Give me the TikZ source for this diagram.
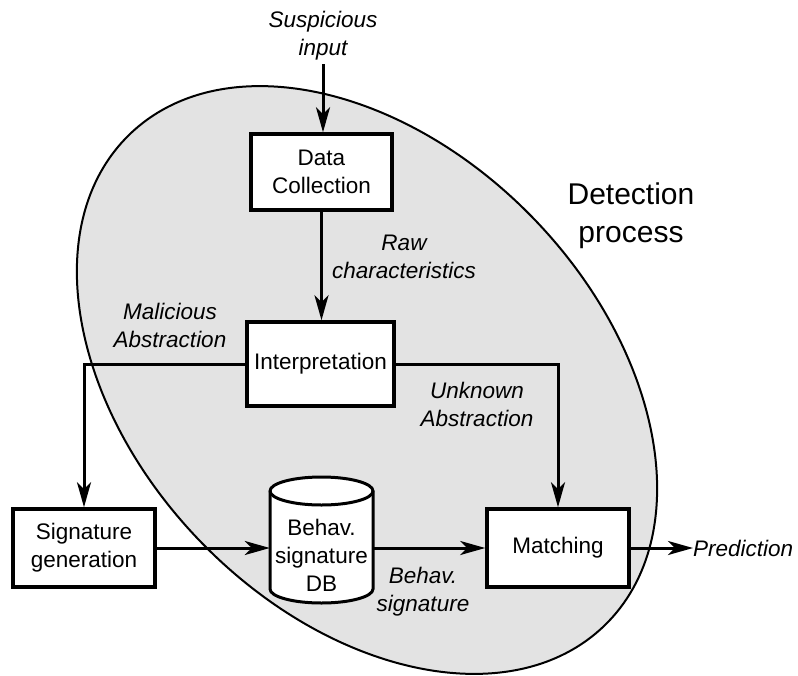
\documentclass[tikz,border=0pt]{standalone}
\usepackage{fontspec}
\setmainfont{Liberation Sans}
\usetikzlibrary{arrows.meta}
\begin{document}
\begin{tikzpicture}[x=1pt,y=1pt,
  every node/.style={font=\fontsize{22.5}{28}\selectfont, align=center},
  procbox/.style={draw, line width=3.5pt, fill=white, inner sep=0pt},
  lbl/.style={font=\fontsize{22.5}{28}\selectfont\itshape},
  flow/.style={line width=3pt, -{Stealth[length=25pt,width=14pt,inset=7pt]}},
  plainline/.style={line width=3pt}]
\useasboundingbox (0,0) rectangle (798,-675);

% tilted region of the detection process
\draw[line width=2pt, fill=black!11, rotate around={-46:(367,-380)}]
  (367,-380) ellipse [x radius=341.6pt, y radius=232pt];
\node[font=\fontsize{30}{38}\selectfont] (det) at (631,-216) {Detection\\process};

% process boxes
\node[procbox, minimum width=141pt, minimum height=76pt] (dc) at (321.5,-172) {Data\\Collection};
\node[procbox, minimum width=147pt, minimum height=84pt] (interp) at (320.5,-364) {Interpretation};
\node[procbox, minimum width=142pt, minimum height=78pt] (sg) at (84,-548) {Signature\\generation};
\node[procbox, minimum width=142pt, minimum height=78pt] (match) at (558,-548) {Matching};

% signature database cylinder
\draw[line width=3pt, fill=white]
  (270,-491) -- (270,-589)
  arc[start angle=180, end angle=360, x radius=51.5pt, y radius=14pt]
  -- (373,-491)
  arc[start angle=0, end angle=180, x radius=51.5pt, y radius=14pt] -- cycle;
\draw[line width=3pt] (270,-491)
  arc[start angle=180, end angle=360, x radius=51.5pt, y radius=14pt];
\node[minimum width=103pt, minimum height=90pt, inner sep=0pt] (db) at (321.5,-555) {Behav.\\signature\\DB};

% free texts
\node[lbl, anchor=south] (input) at (323,-64) {Suspicious\\input};
\node[lbl, anchor=west, inner sep=0pt] (pred) at (693,-548) {Prediction};
\node[lbl] (raw) at (404,-257) {Raw\\characteristics};
\node[lbl] (mal) at (170,-325) {Malicious\\Abstraction};
\node[lbl] (unk) at (477,-404) {Unknown\\Abstraction};
\node[lbl] (bsig) at (423,-592) {Behav.\\signature};

% connectors
\draw[flow] (input.south) -- (dc.north -| input.south);
\draw[flow] (dc.south) -- (interp.north -| dc.south);
\draw[flow] (interp.west) -| (sg.north);
\draw[flow] (interp.east) -| (match.north);
\draw[flow] (sg.east) -- (sg.east -| db.west);
\draw[flow] (db.east |- match.west) -- (match.west);
\draw[flow] (match.east) -- (pred.west);
\end{tikzpicture}
\end{document}
